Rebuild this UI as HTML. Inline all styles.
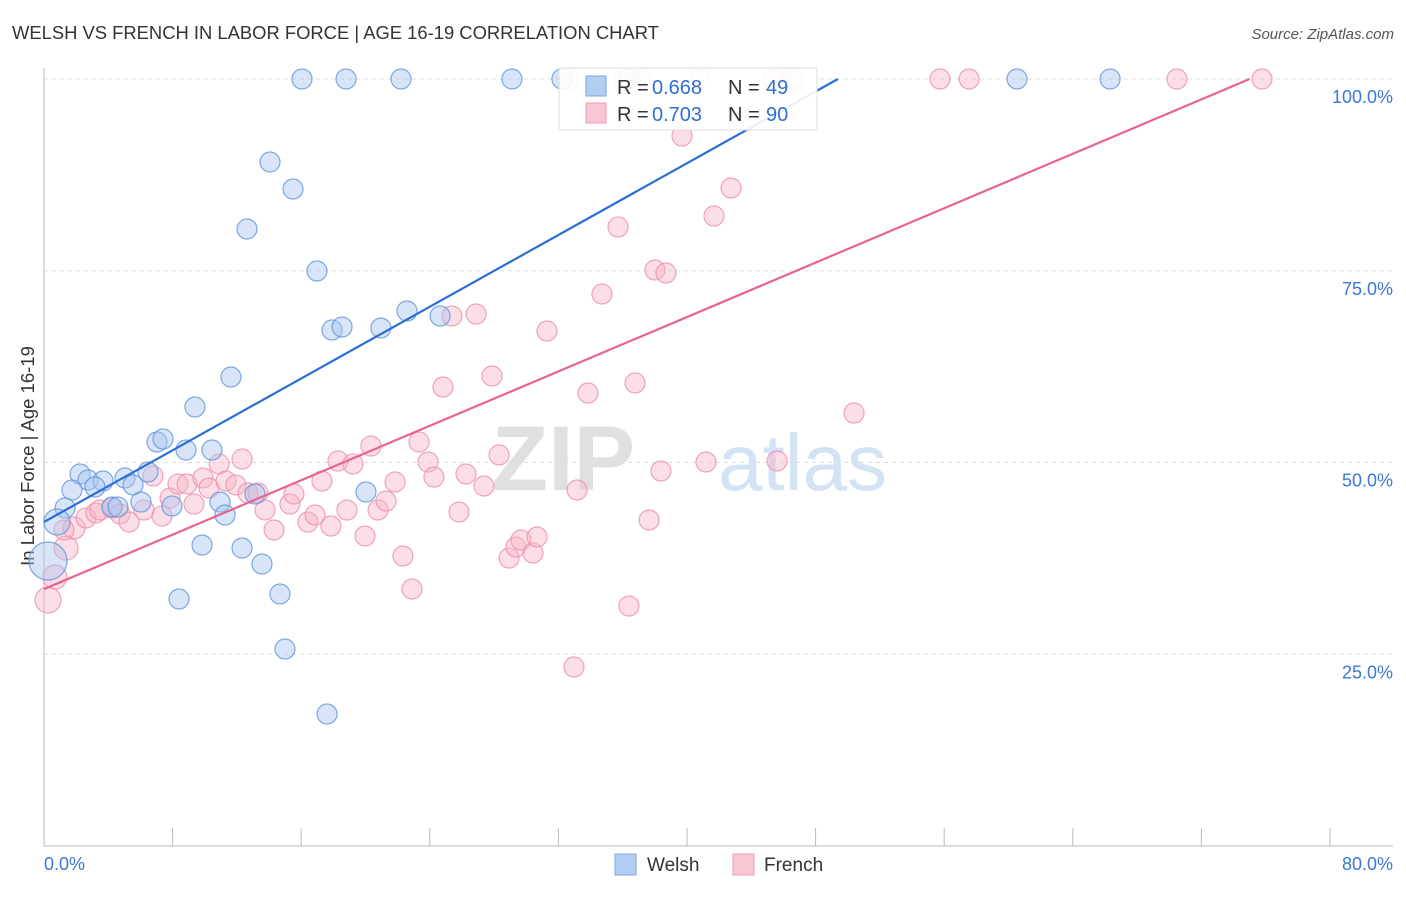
<!DOCTYPE html>
<html><head><meta charset="utf-8"><style>
body{margin:0;background:#fff;font-family:"Liberation Sans",sans-serif;}
svg text{font-family:"Liberation Sans",sans-serif;}
</style></head><body>
<svg id="c" width="1406" height="892">
<text x="12" y="39" font-size="18.4" fill="#333">WELSH VS FRENCH IN LABOR FORCE | AGE 16-19 CORRELATION CHART</text>
<text x="1394" y="39" font-size="15" fill="#555" font-style="italic" text-anchor="end">Source: ZipAtlas.com</text>
<text x="635" y="490" font-size="92" fill="#e0e0e0" font-family="Liberation Serif" font-weight="bold" text-anchor="end">ZIP</text>
<text x="718" y="490" font-size="80" fill="#d3e2f5">atlas</text>
<text transform="translate(34,456) rotate(-90)" font-size="18.5" fill="#333" text-anchor="middle">In Labor Force | Age 16-19</text>
<g id="grid"></g><g id="pts"></g><g id="lines"></g>
<g>
<rect x="559" y="68" width="258" height="62" fill="#fff" fill-opacity="0.9" stroke="#ddd"/>
<rect x="586" y="76" width="20" height="20" fill="#b3cdf2" stroke="#7aa5e3"/>
<rect x="586" y="103" width="20" height="20" fill="#f9c6d4" stroke="#ee9fb6"/>
<text x="617" y="94" font-size="20" fill="#333">R =</text>
<text x="652" y="94" font-size="20" fill="#2f6fd0">0.668</text>
<text x="728" y="94" font-size="20" fill="#333">N =</text>
<text x="766" y="94" font-size="20" fill="#2f6fd0">49</text>
<text x="617" y="121" font-size="20" fill="#333">R =</text>
<text x="652" y="121" font-size="20" fill="#2f6fd0">0.703</text>
<text x="728" y="121" font-size="20" fill="#333">N =</text>
<text x="766" y="121" font-size="20" fill="#2f6fd0">90</text>
</g>
<g>
<rect x="615" y="854" width="21" height="21" fill="#b3cdf2" stroke="#7aa5e3"/>
<text x="647" y="871" font-size="19" fill="#333">Welsh</text>
<rect x="733" y="854" width="21" height="21" fill="#f9c6d4" stroke="#ee9fb6"/>
<text x="764" y="871" font-size="19" fill="#333">French</text>
</g>
</svg>
<script>
const xTicks=[0,8,16,24,32,40,48,56,64,72,80];
const yTicks=[25,50,75,100];
const yTickLabels=["25.0%","50.0%","75.0%","100.0%"];
const xEndLabels=["0.0%","80.0%"];
const welshX=[16.05,18.79,22.21,29.11,32.22,36.33,60.53,66.32,14.06,15.49,12.63,16.98,17.92,18.54,20.96,22.58,24.64,11.63,9.39,7.03,7.40,10.45,8.83,2.24,2.74,3.67,5.04,6.47,1.74,3.17,5.54,1.31,4.23,4.60,6.03,7.96,10.95,11.26,13.13,20.03,0.81,0.25,9.83,12.32,13.56,8.40,14.68,14.99,17.61];
const welshY=[100,100,100,100,100,100,100,100,89.18,85.66,80.44,74.97,67.28,67.67,67.54,69.75,69.10,61.15,57.24,52.67,53.06,51.63,51.63,48.50,47.72,47.59,47.98,48.76,46.41,46.81,47.07,44.07,44.20,44.20,44.85,44.33,44.85,43.16,45.89,46.15,42.24,37.16,39.24,38.85,36.77,32.20,32.86,25.68,17.21];
const frenchX=[0.25,0.68,1.37,1.87,2.61,3.23,4.23,4.73,5.29,6.22,6.78,7.34,7.84,8.34,8.90,9.33,9.89,10.26,10.89,11.32,11.94,12.32,12.69,13.31,13.75,14.31,15.30,15.55,16.42,16.86,17.29,17.85,18.29,18.85,19.22,19.97,20.34,20.78,21.28,21.84,22.33,22.89,23.33,23.89,24.26,24.82,25.38,25.82,26.25,26.88,27.37,27.87,28.31,28.93,29.36,29.67,30.42,30.67,31.29,32.97,33.16,33.84,34.71,35.71,36.39,36.77,37.64,38.01,38.38,38.69,39.69,41.18,41.68,42.74,45.60,50.39,37.08,40.81,45.35,46.60,55.74,57.55,70.48,75.77,36.02,32.72,1.24,3.48];
const frenchY=[32.07,35.07,38.85,41.46,42.76,43.42,44.07,43.29,42.24,43.81,48.24,43.03,45.37,47.20,47.20,44.59,47.98,46.68,49.81,47.59,47.07,50.46,46.02,46.02,43.81,41.20,44.59,45.89,42.24,43.16,47.59,41.72,50.20,43.81,49.81,40.42,52.15,43.81,44.98,47.46,37.81,33.51,52.67,50.07,48.11,59.84,69.10,43.55,48.50,69.36,46.94,61.28,50.98,37.55,38.98,39.90,38.20,40.29,67.14,23.34,46.41,59.06,71.97,80.71,31.29,60.37,42.50,75.10,48.89,74.71,92.57,50.07,82.14,85.79,50.20,56.45,100,100,100,100,100,100,100,100,100,100,41.20,43.81];
const welshTrend=[[0,42.24],[49.39,100]];
const frenchTrend=[[0,33.5],[75.0,100]];
const NS="http://www.w3.org/2000/svg";
const X0=44,X1=1330,Y0=846,Y1=79;
const sx=v=>X0+(v/80)*(X1-X0);
const sy=v=>Y0-(v/100)*(Y0-Y1);
function mk(tag,attrs,parent){const e=document.createElementNS(NS,tag);for(const k in attrs)e.setAttribute(k,attrs[k]);parent.appendChild(e);return e;}
const grid=document.getElementById('grid');
yTicks.forEach((t,i)=>{
 const l=mk('line',{x1:X0,x2:1393,y1:sy(t),y2:sy(t),stroke:'#ddd','stroke-dasharray':'4,4'},grid);
 
 
 const tx=mk('text',{x:1393,y:sy(t)+24,'font-size':18,fill:'#3a78d4','text-anchor':'end'},grid);
 tx.textContent=yTickLabels[i];
 
 
});
const ax=mk('line',{x1:X0,x2:X0,y1:68,y2:Y0,stroke:'#bbb'},grid);


const bx=mk('line',{x1:X0,x2:1393,y1:Y0,y2:Y0,stroke:'#bbb'},grid);


xTicks.forEach(t=>{
 const l=mk('line',{x1:sx(t),x2:sx(t),y1:828,y2:Y0,stroke:'#bbb'},grid);
 
 
});
const xl0=mk('text',{x:44,y:870,'font-size':18,fill:'#3a78d4'},grid);xl0.textContent=xEndLabels[0];


const xl1=mk('text',{x:1393,y:870,'font-size':18,fill:'#3a78d4','text-anchor':'end'},grid);xl1.textContent=xEndLabels[1];


const pts=document.getElementById('pts');
function drawSeries(xs,ys,fill,stroke,name,bigIdx){
 xs.forEach((x,i)=>{
  const r=bigIdx[i]||10;
  const c=mk('circle',{cx:sx(x),cy:sy(ys[i]),r:r,fill:fill,'fill-opacity':0.45,stroke:stroke,'stroke-opacity':0.8,'stroke-width':1.2},pts);
  
  
 });
}
drawSeries(frenchX,frenchY,'#f7b6c8','#ec8fab','french-point',{0:13,1:12,2:12,3:11});
drawSeries(welshX,welshY,'#a8c5f0','#5f93dc','welsh-point',{41:19,40:13});
const lines=document.getElementById('lines');
const lw=mk('line',{x1:sx(welshTrend[0][0]),y1:sy(welshTrend[0][1]),x2:sx(welshTrend[1][0]),y2:sy(welshTrend[1][1]),stroke:'#2a6fd6','stroke-width':2.2},lines);


const lf=mk('line',{x1:sx(frenchTrend[0][0]),y1:sy(frenchTrend[0][1]),x2:sx(frenchTrend[1][0]),y2:sy(frenchTrend[1][1]),stroke:'#e8648e','stroke-width':2.2},lines);


</script>
</body></html>
